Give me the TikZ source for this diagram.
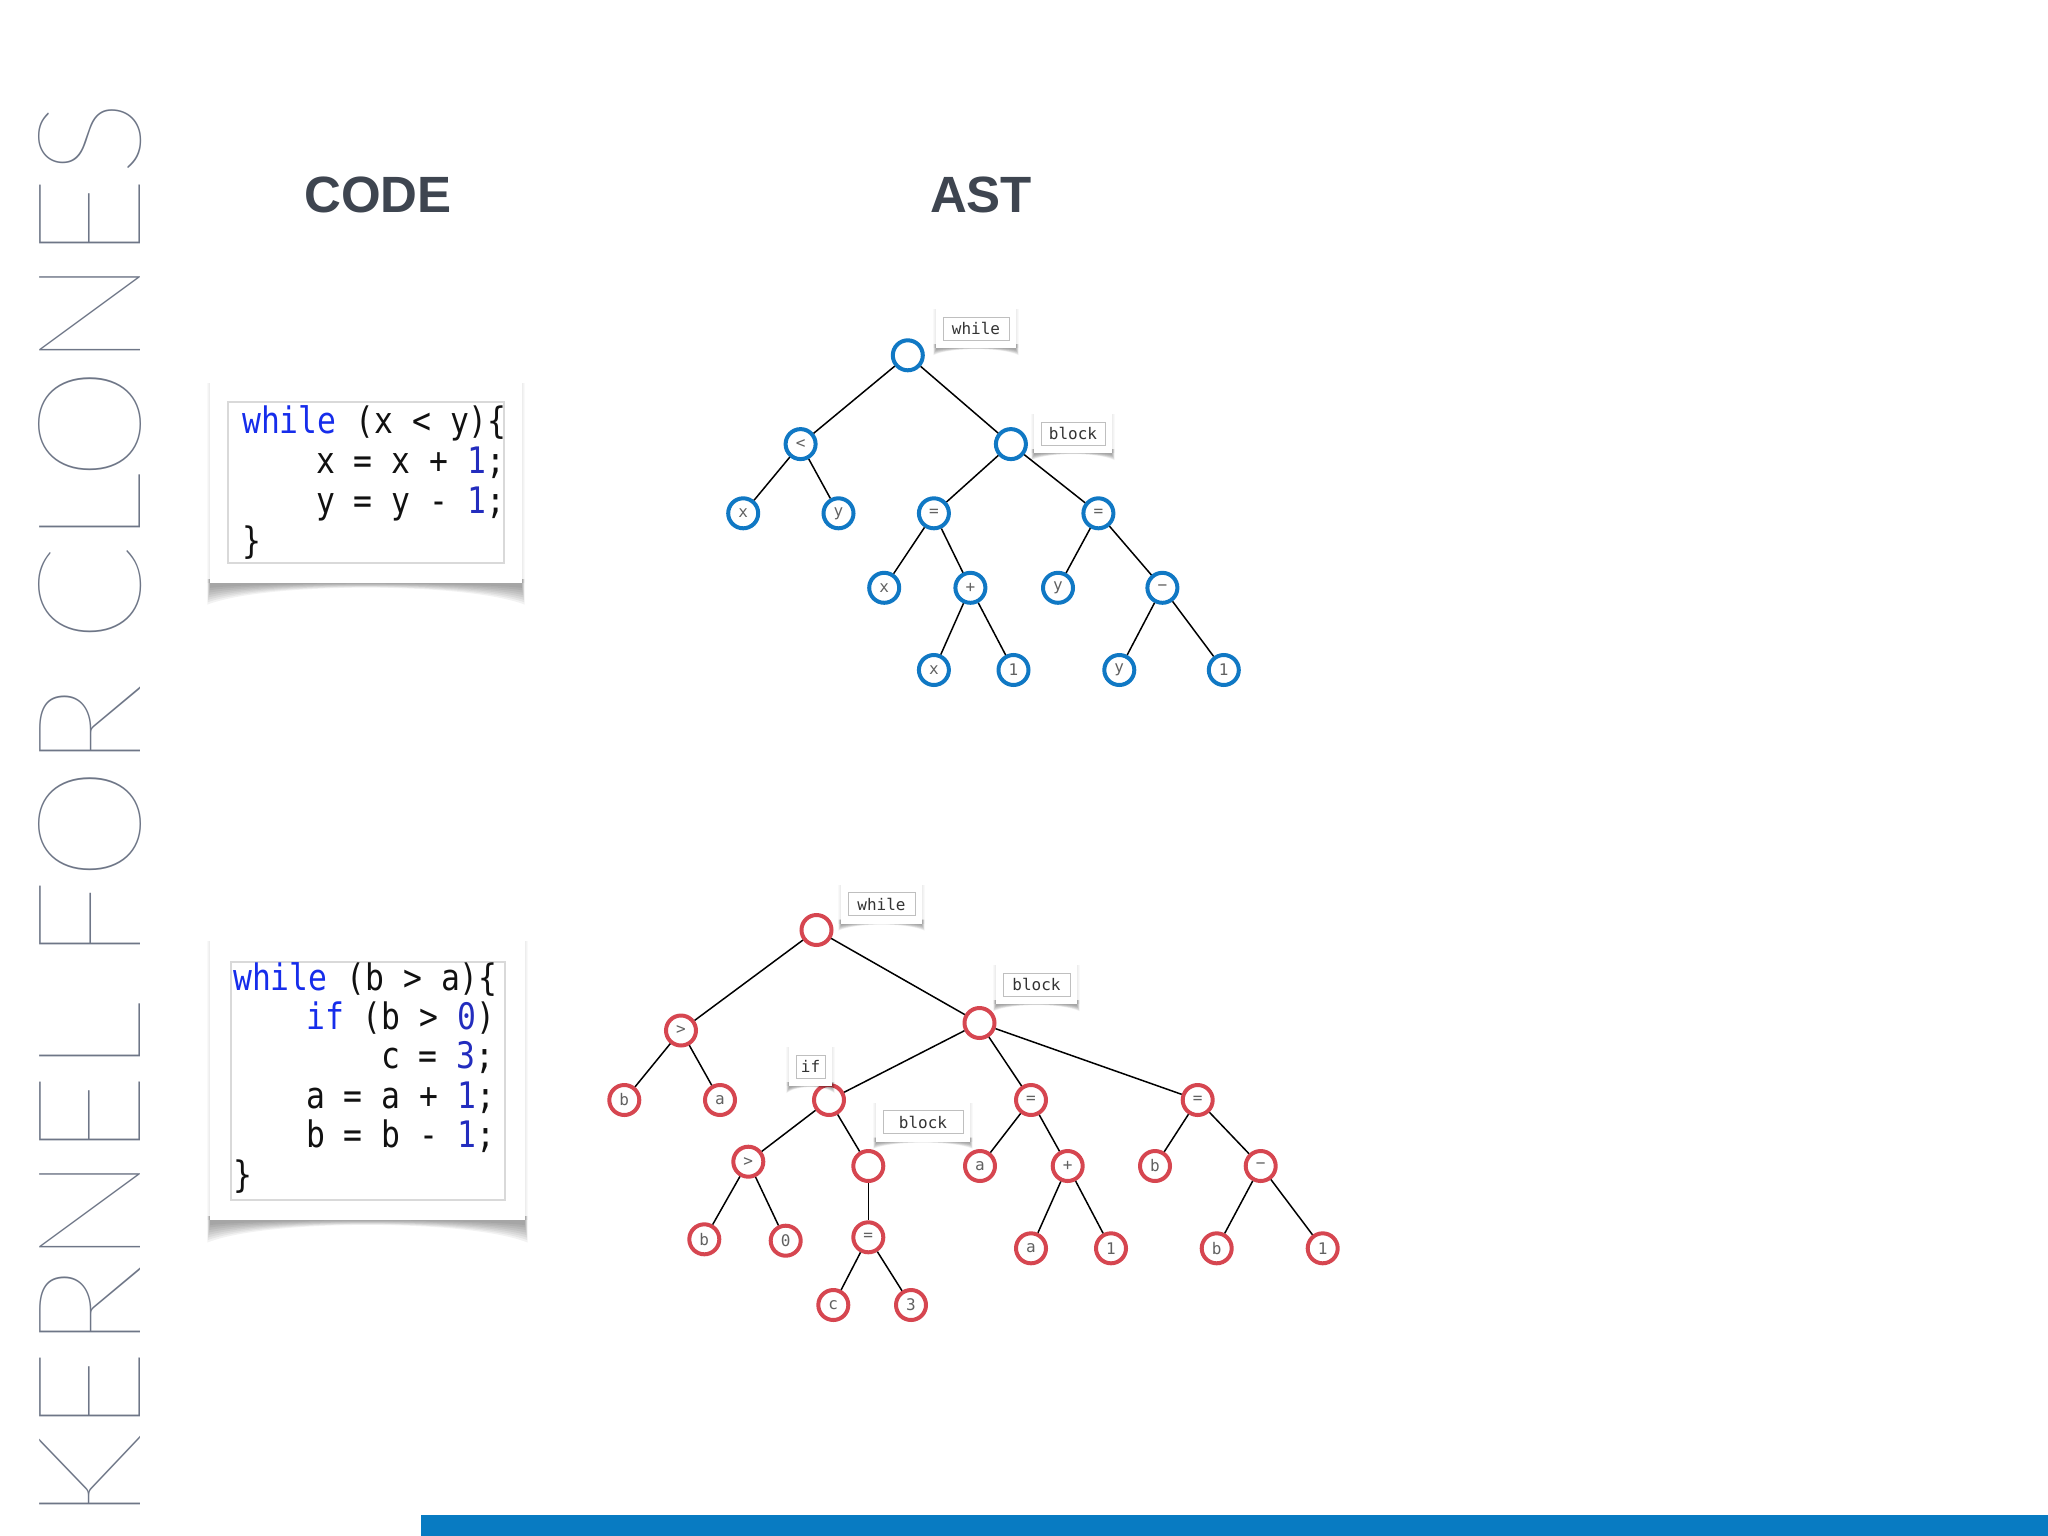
\documentclass[tikz,border=0pt]{standalone}
\usepackage{fontspec}
\usepackage{graphicx}
\setmainfont{Liberation Sans}
\newfontfamily\hdfam{Liberation Sans}
\newfontfamily\codefam[FakeStretch=0.86]{DejaVu Sans Mono}
\newfontfamily\monofam{DejaVu Sans Mono}
\IfFontExistsTF{Lato Thin}
  {\newfontfamily\titlefam{Lato Thin}}
  {\IfFontExistsTF{Lato Hairline}
    {\newfontfamily\titlefam{Lato Hairline}}
    {\IfFontExistsTF{DejaVuSans-ExtraLight.ttf}
      {\newfontfamily\titlefam{DejaVuSans-ExtraLight.ttf}}
      {\newfontfamily\titlefam{DejaVu Sans}}}}
\definecolor{nodeblue}{RGB}{16,120,196}
\definecolor{nodered}{RGB}{214,70,80}
\definecolor{kwblue}{RGB}{22,45,235}
\definecolor{numblue}{RGB}{35,45,190}
\definecolor{hdgray}{RGB}{62,69,80}
\definecolor{titlegray}{RGB}{110,118,135}
\definecolor{barblue}{RGB}{8,123,194}
\definecolor{codeink}{RGB}{17,17,17}

\newcommand{\paperbox}[6]{%
  \foreach \k in {1,...,8}{
    \fill[black,opacity=0.05] ({#1-3+\k*0.4},{#4-4}) -- ({#3+3-\k*0.4},{#4-4})
      -- ({#3+3-\k*0.4},{#4+#5*(1-\k/10)})
      .. controls ({#3-(#3-#1)*0.18},{#4+#6}) and ({#1+(#3-#1)*0.18},{#4+#6}) ..
      ({#1-3+\k*0.4},{#4+#5*(1-\k/10)}) -- cycle;
  }
  \foreach \k in {1,2,3}{
    \fill[black,opacity=0.025] ({#1-\k},{#2+1}) rectangle ({#3+\k},{#4});
  }
  \fill[white] (#1,#2) rectangle (#3,#4);
}
\newcommand{\astlabel}[5]{%
  \pgfmathsetmacro{\lxa}{#2-#4/2-7}
  \pgfmathsetmacro{\lxb}{#2+#4/2+7}
  \pgfmathsetmacro{\lya}{#3-20.5}
  \pgfmathsetmacro{\lyb}{#3+19.5}
  \paperbox{\lxa}{\lya}{\lxb}{\lyb}{8}{-1}
  \node[lbl, minimum width=#4pt] (#1) at (#2,#3) {#5};
}

\begin{document}
\begin{tikzpicture}[x=1pt,y=-1pt,
  bn/.style={circle, draw=nodeblue, line width=4pt, minimum size=30pt, inner sep=0pt,
    fill=white, text=black!62, font={\monofam\fontsize{16pt}{16pt}\selectfont}},
  rn/.style={bn, draw=nodered},
  edge/.style={line width=1.5pt, black},
  lbl/.style={draw=black!25, line width=0.8pt, fill=white, minimum height=23pt, inner sep=0pt,
    text=black!80, font={\monofam\fontsize{16pt}{16pt}\selectfont}},
  codeline/.style={anchor=base west, inner sep=0pt, text=codeink,
    font={\codefam\fontsize{36.5pt}{40pt}\selectfont}},
  codeframe/.style={draw=black!15, line width=1.2pt, fill=white},
  hd/.style={inner sep=0pt, text=hdgray, font={\hdfam\bfseries\fontsize{51pt}{51pt}\selectfont}}
  ]
\useasboundingbox (0,0) rectangle (2048,1536);
\fill[white] (0,0) rectangle (2048,1536);

% vertical title
\node[rotate=90, inner sep=0pt, text=titlegray] (title) at (90,811)
  {\resizebox{1420pt}{102pt}{\titlefam KERNEL FOR CLONES}};

% headers
\node[hd] (hcode) at (378,195) {CODE};
\node[hd] (hast) at (981,195) {AST};

% bottom bar
\fill[barblue] (421,1515) rectangle (2048,1536);

% code box 1
\paperbox{210}{382}{522}{583}{24}{-1}
\draw[codeframe] (228,402) rectangle (504,563);
\node[codeline] (c1a) at (242,433) {{\color{kwblue}while} (x < y)\{};
\node[codeline] (c1b) at (316,473) {x = x + {\color{numblue}1};};
\node[codeline] (c1c) at (316,513) {y = y - {\color{numblue}1};};
\node[codeline] (c1d) at (242,553) {\}};

% code box 2
\paperbox{210}{940}{525}{1220}{25}{-1}
\draw[codeframe] (231,962) rectangle (505,1200);
\node[codeline] (c2a) at (233,990) {{\color{kwblue}while} (b > a)\{};
\node[codeline] (c2b) at (306,1029) {{\color{kwblue}if} (b > {\color{numblue}0})};
\node[codeline] (c2c) at (381,1068) {c = {\color{numblue}3};};
\node[codeline] (c2d) at (306,1108) {a = a + {\color{numblue}1};};
\node[codeline] (c2e) at (306,1147) {b = b - {\color{numblue}1};};
\node[codeline] (c2f) at (233,1187) {\}};

% tree 1
\node[bn] (t1r) at (907.8,355.3) {};
\node[bn] (t1lt) at (800.6,444.1) {<};
\node[bn] (t1bk) at (1010.9,444.1) {};
\node[bn] (t1xa) at (743.2,513.3) {x};
\node[bn] (t1ya) at (838.5,513.3) {y};
\node[bn] (t1eqa) at (933.9,513.3) {=};
\node[bn] (t1eqb) at (1098.4,513.3) {=};
\node[bn] (t1xb) at (884.2,587.8) {x};
\node[bn] (t1pl) at (970.4,587.8) {+};
\node[bn] (t1yb) at (1058,587.8) {y};
\node[bn] (t1mi) at (1162.4,587.8) {−};
\node[bn] (t1xc) at (933.9,670) {x};
\node[bn] (t1oa) at (1013.5,670) {1};
\node[bn] (t1yc) at (1119.3,670) {y};
\node[bn] (t1ob) at (1223.8,670) {1};
\draw[edge] (t1r) -- (t1lt);
\draw[edge] (t1r) -- (t1bk);
\draw[edge] (t1lt) -- (t1xa);
\draw[edge] (t1lt) -- (t1ya);
\draw[edge] (t1bk) -- (t1eqa);
\draw[edge] (t1bk) -- (t1eqb);
\draw[edge] (t1eqa) -- (t1xb);
\draw[edge] (t1eqa) -- (t1pl);
\draw[edge] (t1pl) -- (t1xc);
\draw[edge] (t1pl) -- (t1oa);
\draw[edge] (t1eqb) -- (t1yb);
\draw[edge] (t1eqb) -- (t1mi);
\draw[edge] (t1mi) -- (t1yc);
\draw[edge] (t1mi) -- (t1ob);
\astlabel{t1lwhile}{976}{328.5}{66}{while}
\astlabel{t1lblock}{1073}{433.5}{64}{block}

% tree 2
\node[rn] (t2r) at (816.5,930) {};
\node[rn] (t2gta) at (681,1030.5) {>};
\node[rn] (t2bk) at (979.5,1023) {};
\node[rn] (t2ba) at (624.3,1100) {b};
\node[rn] (t2aa) at (720,1100) {a};
\node[rn] (t2if) at (829,1100) {};
\node[rn] (t2eqa) at (1031,1100) {=};
\node[rn] (t2eqb) at (1197.7,1100) {=};
\node[rn] (t2gtb) at (748.3,1161.7) {>};
\node[rn] (t2bkb) at (868.3,1166) {};
\node[rn] (t2ab) at (980,1166) {a};
\node[rn] (t2pl) at (1067.7,1166) {+};
\node[rn] (t2bb) at (1155,1166) {b};
\node[rn] (t2mi) at (1260.7,1166) {−};
\node[rn] (t2bc) at (704.3,1239.3) {b};
\node[rn] (t2z) at (785.7,1240.7) {0};
\node[rn] (t2eqc) at (868.3,1237.3) {=};
\node[rn] (t2ac) at (1031,1248.3) {a};
\node[rn] (t2oa) at (1111,1248.3) {1};
\node[rn] (t2bd) at (1216.7,1248.3) {b};
\node[rn] (t2ob) at (1322.7,1248.3) {1};
\node[rn] (t2c) at (833.3,1305) {c};
\node[rn] (t2th) at (911,1305) {3};
\draw[edge] (t2r) -- (t2gta);
\draw[edge] (t2r) -- (t2bk);
\draw[edge] (t2gta) -- (t2ba);
\draw[edge] (t2gta) -- (t2aa);
\draw[edge] (t2bk) -- (t2if);
\draw[edge] (t2bk) -- (t2eqa);
\draw[edge] (t2bk) -- (t2eqb);
\draw[edge] (t2if) -- (t2gtb);
\draw[edge] (t2if) -- (t2bkb);
\draw[edge] (t2gtb) -- (t2bc);
\draw[edge] (t2gtb) -- (t2z);
\draw[edge] (t2bkb) -- (t2eqc);
\draw[edge] (t2eqc) -- (t2c);
\draw[edge] (t2eqc) -- (t2th);
\draw[edge] (t2eqa) -- (t2ab);
\draw[edge] (t2eqa) -- (t2pl);
\draw[edge] (t2pl) -- (t2ac);
\draw[edge] (t2pl) -- (t2oa);
\draw[edge] (t2eqb) -- (t2bb);
\draw[edge] (t2eqb) -- (t2mi);
\draw[edge] (t2mi) -- (t2bd);
\draw[edge] (t2mi) -- (t2ob);
\astlabel{t2lwhile}{881.5}{904}{67}{while}
\astlabel{t2lblock}{1036.5}{984.5}{67}{block}
\astlabel{t2lif}{810.5}{1066.5}{29}{if}
\astlabel{t2lblockb}{923}{1122}{80}{block}
\end{tikzpicture}
\end{document}
